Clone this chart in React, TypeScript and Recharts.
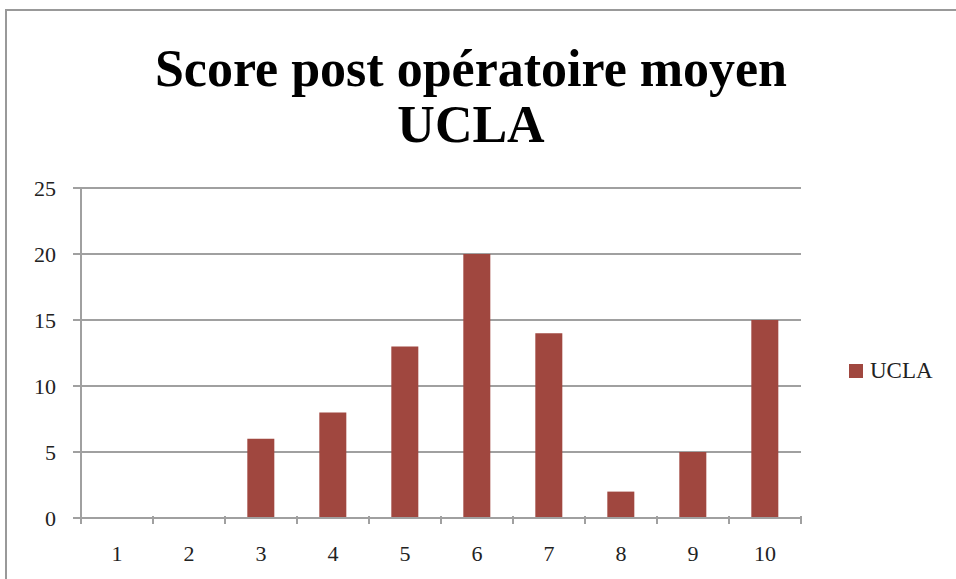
import { Bar, BarChart, CartesianGrid, Legend, XAxis, YAxis } from 'recharts';

const categories = ['1', '2', '3', '4', '5', '6', '7', '8', '9', '10'];
const uclaScores = [0, 0, 6, 8, 13, 20, 14, 2, 5, 15];
const yTicks = [0, 5, 10, 15, 20, 25];

const seriesName = 'UCLA';
const titleLines = ['Score post opératoire moyen', 'UCLA'];

const W = 956;
const H = 579;
const margin = { top: 188, right: 155, bottom: 31, left: 21 };
const BAR_COLOR = '#A0473F';
const GRID = '#A0A0A0';
const FONT = '"Liberation Serif", serif';

const data = categories.map((c, i) => ({ name: c, ucla: uclaScores[i] }));
const step = (W - margin.left - 60 - margin.right) / categories.length;

// category labels at centres, tick marks on the boundaries (Excel style)
function BoundaryTick(props: any) {
    const { x, y, payload, index } = props;
    const top = y - 10;
    const half = step / 2;
    return (
        <g>
            <line x1={x - half} y1={top} x2={x - half} y2={top + 8} stroke={GRID} strokeWidth={2} />
            {index === categories.length - 1 && (
                <line x1={x + half} y1={top} x2={x + half} y2={top + 8} stroke={GRID} strokeWidth={2} />
            )}
            <text x={x} y={top + 45} textAnchor="middle" fontSize={22} fill="#222" fontFamily={FONT}>
                {payload.value}
            </text>
        </g>
    );
}

function LegendBox() {
    return (
        <div style={{ display: 'flex', alignItems: 'center', fontFamily: FONT, fontSize: 23, color: '#222' }}>
            <span style={{ width: 14, height: 14, background: BAR_COLOR, display: 'inline-block', marginRight: 7 }} />
            <span>{seriesName}</span>
        </div>
    );
}

export default function App() {
    return (
        <div style={{ position: 'fixed', left: 0, top: 0, width: W, height: H, background: '#fff', overflow: 'hidden' }}>
            <div style={{ position: 'absolute', left: 5, top: 9, width: W + 20, height: H + 20, border: '2px solid #999', boxSizing: 'border-box' }} />
            <div
                style={{
                    position: 'absolute', left: 0, top: 41, width: 942, textAlign: 'center',
                    fontFamily: FONT, fontWeight: 'bold', fontSize: 52, lineHeight: '56px', color: '#000',
                }}
            >
                {titleLines.map((t) => <div key={t}>{t}</div>)}
            </div>
            <BarChart width={W} height={H} data={data} margin={margin} barCategoryGap="31%">
                <CartesianGrid vertical={false} stroke={GRID} strokeWidth={2} />
                <XAxis
                    dataKey="name"
                    height={30}
                    axisLine={{ stroke: GRID, strokeWidth: 2 }}
                    tickLine={false}
                    tick={<BoundaryTick />}
                    interval={0}
                />
                <YAxis
                    width={60}
                    domain={[0, 25]}
                    ticks={yTicks}
                    axisLine={{ stroke: GRID, strokeWidth: 2 }}
                    tickLine={{ stroke: GRID, strokeWidth: 2 }}
                    tickSize={8}
                    tickMargin={17}
                    tick={{ fontSize: 22, fill: '#222', fontFamily: FONT }}
                />
                <Legend
                    layout="vertical"
                    align="center"
                    verticalAlign="middle"
                    wrapperStyle={{ left: 849, top: 358, width: 100 }}
                    content={<LegendBox />}
                />
                <Bar dataKey="ucla" name={seriesName} fill={BAR_COLOR} isAnimationActive={false} />
            </BarChart>
        </div>
    );
}
